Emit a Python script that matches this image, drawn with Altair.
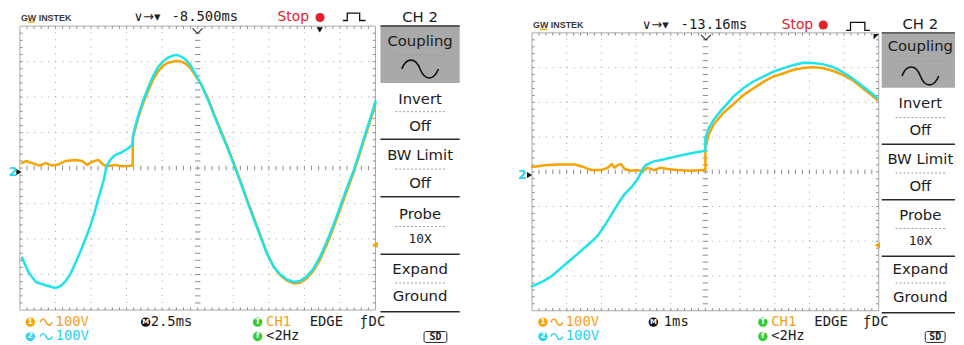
import altair as alt
import pandas as pd

# ---------------- trace values, in screen divisions (x: -5..5, y: -4..4) ----------------
# Left screen (2.5 ms/div)
L_CH1_X = [-4.94, -4.83, -4.65, -4.46, -4.28, -4.09, -3.90, -3.72, -3.44, -3.25,
           -3.11, -3.02, -2.93, -2.79, -2.65, -2.51, -2.32, -2.14, -1.95, -1.83,
           -1.82, -1.77, -1.67, -1.53, -1.39, -1.25, -1.12, -0.98, -0.84, -0.70,
           -0.60, -0.46, -0.33, -0.19, -0.05, 0.09, 0.28, 0.46, 0.65, 0.84,
           1.02, 1.21, 1.39, 1.58, 1.77, 1.95, 2.14, 2.32, 2.51, 2.70,
           2.88, 3.07, 3.25, 3.44, 3.62, 3.81, 4.00, 4.18, 4.41, 4.55,
           4.74, 4.90, 5.00]
L_CH1_Y = [0.14, 0.20, 0.14, 0.07, 0.14, 0.07, 0.11, 0.20, 0.23, 0.20,
           0.09, 0.15, 0.19, 0.23, 0.09, 0.06, 0.09, 0.05, 0.06, 0.07,
           0.88, 1.05, 1.42, 1.84, 2.18, 2.50, 2.72, 2.88, 2.97, 3.00,
           3.02, 3.00, 2.94, 2.80, 2.58, 2.38, 1.98, 1.53, 1.06, 0.60,
           0.13, -0.38, -0.89, -1.40, -1.91, -2.40, -2.78, -3.02, -3.17, -3.25,
           -3.23, -3.10, -2.90, -2.58, -2.18, -1.70, -1.18, -0.68, -0.06, 0.38,
           0.98, 1.48, 1.82]
L_CH2_X = [-4.94, -4.75, -4.55, -4.28, -4.00, -3.85, -3.72, -3.60, -3.49, -3.37,
           -3.25, -3.13, -3.02, -2.90, -2.79, -2.65, -2.56, -2.46, -2.32, -2.14,
           -1.95, -1.84, -1.82, -1.77, -1.67, -1.53, -1.39, -1.25, -1.12, -0.98,
           -0.84, -0.70, -0.60, -0.46, -0.33, -0.19, -0.05, 0.09, 0.28, 0.46,
           0.65, 0.84, 1.02, 1.21, 1.39, 1.58, 1.77, 1.95, 2.14, 2.32,
           2.51, 2.70, 2.88, 3.07, 3.25, 3.44, 3.62, 3.81, 4.00, 4.18,
           4.41, 4.55, 4.74, 4.90, 5.00]
L_CH2_Y = [-2.53, -2.95, -3.21, -3.30, -3.38, -3.32, -3.19, -3.02, -2.79, -2.52,
           -2.23, -1.93, -1.63, -1.25, -0.84, -0.37, 0.05, 0.23, 0.37, 0.44,
           0.56, 0.65, 0.88, 1.12, 1.49, 1.91, 2.28, 2.60, 2.84, 3.00,
           3.11, 3.17, 3.19, 3.14, 3.05, 2.88, 2.62, 2.37, 1.95, 1.49,
           1.02, 0.56, 0.09, -0.42, -0.93, -1.44, -1.95, -2.42, -2.79, -3.00,
           -3.14, -3.21, -3.18, -3.05, -2.84, -2.50, -2.10, -1.62, -1.10, -0.60,
           0.00, 0.45, 1.05, 1.55, 1.88]

# Right screen (1 ms/div)
R_CH1_X = [-5.00, -4.62, -4.24, -3.76, -3.52, -3.29, -3.00, -2.81, -2.70, -2.62,
           -2.52, -2.43, -2.33, -2.14, -1.95, -1.81, -1.67, -1.48, -1.29, -1.10,
           -0.81, -0.43, -0.05, 0.00, 0.00, 0.10, 0.24, 0.52, 0.81, 1.10,
           1.38, 1.67, 1.95, 2.24, 2.52, 2.81, 3.10, 3.38, 3.67, 3.95,
           4.24, 4.52, 4.76, 4.96]
R_CH1_Y = [0.14, 0.19, 0.21, 0.21, 0.14, 0.05, 0.05, 0.12, 0.22, 0.12,
           0.20, 0.22, 0.08, 0.03, 0.05, 0.01, 0.12, 0.05, 0.12, 0.08,
           0.05, 0.03, 0.05, 0.05, 0.70, 1.08, 1.37, 1.70, 1.95, 2.21,
           2.40, 2.59, 2.74, 2.83, 2.93, 2.99, 3.01, 2.99, 2.91, 2.80,
           2.64, 2.42, 2.23, 2.07]
R_CH2_X = [-5.00, -4.71, -4.43, -4.14, -3.95, -3.67, -3.48, -3.29, -3.10, -2.90,
           -2.71, -2.52, -2.33, -2.14, -1.95, -1.81, -1.71, -1.48, -1.19, -0.90,
           -0.62, -0.33, -0.05, 0.00, 0.00, 0.10, 0.24, 0.43, 0.62, 0.81,
           1.10, 1.38, 1.67, 1.95, 2.24, 2.52, 2.81, 3.10, 3.38, 3.67,
           3.95, 4.24, 4.52, 4.76, 4.96]
R_CH2_Y = [-3.30, -3.17, -3.00, -2.75, -2.59, -2.35, -2.18, -2.02, -1.83, -1.54,
           -1.23, -0.92, -0.64, -0.45, -0.21, 0.08, 0.20, 0.30, 0.36, 0.43,
           0.49, 0.55, 0.60, 0.60, 0.98, 1.26, 1.50, 1.74, 1.95, 2.17,
           2.41, 2.60, 2.74, 2.88, 2.98, 3.07, 3.14, 3.13, 3.10, 3.02,
           2.88, 2.69, 2.48, 2.29, 2.12]

# ---------------- screen texts ----------------
DELAYS = ["-8.500ms", "-13.16ms"]
TIMEBASES = ["2.5ms", "1ms"]
LOGO_TXT = "GW INSTEK"
STOP_TXT = "Stop"
CH_TXT = "CH 2"
MENU_LABELS = ["Coupling", "Invert", "Off", "BW Limit", "Off", "Probe", "10X", "Expand", "Ground"]
VOLTS = ["100V", "100V"]
TRIG_TXT = ["CH1", "EDGE", "ƒ", "DC", "<2Hz"]

ORANGE = "#f7a300"
CYAN = "#1ee3ea"
T_OR = "#f5a01a"
T_CY = "#2bd3ef"
GREEN = "#33cc33"
RED = "#e3222b"
DOT = "#a0a0a0"
BORDER = "#a9a9a9"
INK = "#1c1c1c"
SANS = "DejaVu Sans"
MONO = "DejaVu Sans Mono"
LOGO = "Liberation Sans"
SINE = "M-1,0C-0.75,-0.65,-0.25,-0.65,0,0C0.25,0.65,0.75,0.65,1,0"

# page-pixel layout of each screen
LEFT_UI = dict(ox=8, W=472, plot=(19, 378, 22.7, 309.3), hy=14, logo_x=20, sym_x=134, time_x=172,
               stop_x=279, dot_x=322,
               pulse=[(345, 17), (349.5, 17), (349.5, 9.5), (362, 9.5), (362, 17), (368, 17)],
               menu=(383, 463), mcx=423, ch_y=13.5, head_line=22.5, box=(23, 80), wave_y=66,
               label_y=[38, 96, 124, 153, 181, 212, 238, 268, 295], dot_y=[52, 109, 167, 225, 282],
               sep_y=[137, 195, 253, 311], gnd=(12, 18, 170), trig=(377.5, 243.5),
               vmark=(198.3, 27.5), tdown=(321.7, 26.5), corner=None, uline=(27, 34, 18.5),
               r1=321.5, r2=336, circ_x=29.5, wave_x=45.5, volt_x=55, m_x=146, tb_x=151,
               t_x=259, ch1_x=267.5, edge_x=311.5, f_x=362, dc_x=371, sd=(427, 450, 331, 342))
RIGHT_UI = dict(ox=480, W=484, plot=(536, 886, 29.5, 310), hy=21.5, logo_x=537, sym_x=647, time_x=686,
                stop_x=788, dot_x=830,
                pulse=[(853, 27), (857.5, 27), (857.5, 19), (872, 19), (872, 27), (877, 27)],
                menu=(889, 963), mcx=928, ch_y=20.5, head_line=29.5, box=(30, 85), wave_y=73,
                label_y=[43, 100, 128, 157, 184, 213, 240, 268, 296], dot_y=[58, 115, 171, 227, 282],
                sep_y=[142, 198, 255, 312], gnd=(526, 533.5, 173), trig=(884.5, 244),
                vmark=(711.5, 34), tdown=None, corner=(883.5, 33.5), uline=(544, 551, 26),
                r1=321.5, r2=336, circ_x=547, wave_x=561, volt_x=570, m_x=658.5, tb_x=669,
                t_x=769, ch1_x=777.5, edge_x=821, f_x=870, dc_x=879, sd=(933, 953, 331, 342))


def screen(U, ch1, ch2, delay, tb):
    ox, oy = U["ox"], 8
    X0, X1, Y0, Y1 = U["plot"]
    dx = (X1 - X0) / 10.0
    dy = (Y1 - Y0) / 8.0
    xs = alt.Scale(domain=[-5, 5], range=[X0 - ox, X1 - ox])
    ys = alt.Scale(domain=[-4, 4], range=[Y1 - oy, Y0 - oy])

    def DX(f):
        return alt.X(f + ":Q", scale=xs, axis=None)

    def DY(f):
        return alt.Y(f + ":Q", scale=ys, axis=None)

    def PX(f):
        return alt.X(f + ":Q", scale=None, axis=None)

    def PY(f):
        return alt.Y(f + ":Q", scale=None, axis=None)

    lx = lambda v: v - ox
    ly = lambda v: v - oy
    L = []

    # plot frame
    frame = pd.DataFrame({"x": [-5], "x2": [5], "y": [-4], "y2": [4]})
    L.append(alt.Chart(frame).mark_rect(fill="white", stroke=BORDER, strokeWidth=1)
             .encode(x=DX("x"), x2="x2:Q", y=DY("y"), y2="y2:Q"))
    # dotted grid
    vg = pd.DataFrame({"x": [-4, -3, -2, -1, 1, 2, 3, 4], "y": -4, "y2": 4})
    L.append(alt.Chart(vg).mark_rule(color=DOT, strokeWidth=1, strokeDash=[1, dy / 5 - 1])
             .encode(x=DX("x"), y=DY("y"), y2="y2:Q"))
    hg = pd.DataFrame({"y": [-3, -2, -1, 1, 2, 3], "x": -5, "x2": 5})
    L.append(alt.Chart(hg).mark_rule(color=DOT, strokeWidth=1, strokeDash=[1, dx / 5 - 1])
             .encode(x=DX("x"), x2="x2:Q", y=DY("y")))
    # ticks on centre lines and frame
    tk = []
    for k in range(1, 50):
        xv = round(-5 + 0.2 * k, 3)
        tk += [(xv, 0, "M0,-1L0,1", 20), (xv, 4, "M0,0L0,1", 30), (xv, -4, "M0,0L0,-1", 30)]
    for k in range(1, 40):
        yv = round(-4 + 0.2 * k, 3)
        tk += [(0, yv, "M-1,0L1,0", 30), (-5, yv, "M0,0L1,0", 30), (5, yv, "M0,0L-1,0", 30)]
    tkd = pd.DataFrame(tk, columns=["x", "y", "sh", "s"])
    L.append(alt.Chart(tkd).mark_point(filled=False, color="#8c8c8c", strokeWidth=1, opacity=1)
             .encode(x=DX("x"), y=DY("y"), shape=alt.Shape("sh:N", scale=None),
                     size=alt.Size("s:Q", scale=None)))

    # traces
    for (xv, yv), col in ((ch1, ORANGE), (ch2, CYAN)):
        d = pd.DataFrame({"x": xv, "y": yv, "i": list(range(len(xv)))})
        L.append(alt.Chart(d).mark_line(color=col, strokeWidth=2.5, strokeJoin="round", strokeCap="round")
                 .encode(x=DX("x"), y=DY("y"), order="i:Q"))

    # menu box
    mx0, mx1 = U["menu"]
    mcx = U["mcx"]
    box = pd.DataFrame({"x": [lx(mx0)], "x2": [lx(mx1)], "y": [ly(U["box"][0])], "y2": [ly(U["box"][1])]})
    L.append(alt.Chart(box).mark_rect(fill="#a9a9a9").encode(x=PX("x"), x2="x2:Q", y=PY("y"), y2="y2:Q"))
    # SD box
    sx0, sx1, sy0, sy1 = U["sd"]
    sdb = pd.DataFrame({"x": [lx(sx0)], "x2": [lx(sx1)], "y": [ly(sy0)], "y2": [ly(sy1)]})
    L.append(alt.Chart(sdb).mark_rect(fillOpacity=0, stroke="#222", strokeWidth=1, cornerRadius=2)
             .encode(x=PX("x"), x2="x2:Q", y=PY("y"), y2="y2:Q"))

    # solid separators
    seps = [U["head_line"]] + U["sep_y"]
    sd = pd.DataFrame({"x": lx(mx0), "x2": lx(mx1), "y": [ly(v) for v in seps]})
    L.append(alt.Chart(sd).mark_rule(color="#2a2a2a", strokeWidth=1.5)
             .encode(x=PX("x"), x2="x2:Q", y=PY("y")))
    # dotted separators
    dd = pd.DataFrame({"x": lx(mcx - 25), "x2": lx(mcx + 25), "y": [ly(v) for v in U["dot_y"]]})
    L.append(alt.Chart(dd).mark_rule(color="#9a9a9a", strokeWidth=1, strokeDash=[2, 2])
             .encode(x=PX("x"), x2="x2:Q", y=PY("y")))
    # logo underline
    u0, u1, uy = U["uline"]
    ud = pd.DataFrame({"x": [lx(u0)], "x2": [lx(u1)], "y": [ly(uy)]})
    L.append(alt.Chart(ud).mark_rule(color=ORANGE, strokeWidth=1.5).encode(x=PX("x"), x2="x2:Q", y=PY("y")))
    # pulse icon
    pdf = pd.DataFrame({"x": [lx(p[0]) for p in U["pulse"]], "y": [ly(p[1]) for p in U["pulse"]],
                        "i": list(range(len(U["pulse"])))})
    L.append(alt.Chart(pdf).mark_line(color="#111", strokeWidth=1.3)
             .encode(x=PX("x"), y=PY("y"), order="i:Q"))

    # texts
    hy = U["hy"]
    r1, r2 = U["r1"], U["r2"]
    T = [
        (LOGO_TXT, U["logo_x"], hy + 0.5, "#3a3a3a", 9, LOGO, "bold", "left"),
        ("∨→▾", U["sym_x"], hy, "#222", 13, SANS, "normal", "left"),
        (delay, U["time_x"], hy, "#222", 14, MONO, "normal", "left"),
        (STOP_TXT, U["stop_x"], hy, RED, 14, SANS, "normal", "left"),
        (CH_TXT, mcx, U["ch_y"], INK, 15, SANS, "normal", "center"),
        ("2", U["gnd"][0], U["gnd"][2], T_CY, 13, SANS, "bold", "center"),
        (VOLTS[0], U["volt_x"], r1, T_OR, 14, MONO, "normal", "left"),
        (VOLTS[1], U["volt_x"], r2, T_CY, 14, MONO, "normal", "left"),
        (tb, U["tb_x"], r1, INK, 14, MONO, "normal", "left"),
        (TRIG_TXT[0], U["ch1_x"], r1, T_OR, 14, MONO, "normal", "left"),
        (TRIG_TXT[1], U["edge_x"], r1, INK, 14, MONO, "normal", "left"),
        (TRIG_TXT[2], U["f_x"], r1, INK, 14, MONO, "normal", "left"),
        (TRIG_TXT[3], U["dc_x"], r1, INK, 14, MONO, "normal", "left"),
        (TRIG_TXT[4], U["ch1_x"], r2, INK, 14, MONO, "normal", "left"),
        ("SD", (sx0 + sx1) / 2, (sy0 + sy1) / 2 + 0.5, INK, 10, MONO, "bold", "center"),
        ("1", U["circ_x"], r1, "white", 8, SANS, "bold", "center"),
        ("2", U["circ_x"], r2, "white", 8, SANS, "bold", "center"),
        ("M", U["m_x"], r1, "white", 7, SANS, "bold", "center"),
        ("T", U["t_x"], r1, "white", 8, SANS, "bold", "center"),
        ("f", U["t_x"], r2, "white", 8, SANS, "bold", "center"),
    ]
    for lab, yv in zip(MENU_LABELS, U["label_y"]):
        if lab == "10X":
            T.append((lab, mcx, yv, INK, 13, MONO, "normal", "center"))
        else:
            T.append((lab, mcx, yv, INK, 15, SANS, "normal", "center"))
    tdf = pd.DataFrame(T, columns=["t", "x", "y", "c", "s", "f", "w", "a"])
    tdf["x"] = tdf["x"] - ox
    tdf["y"] = tdf["y"] - oy

    # symbols (filled)
    P = [
        (U["dot_x"], hy, "circle", 85, RED),
        (U["circ_x"], r1, "circle", 90, ORANGE),
        (U["circ_x"], r2, "circle", 90, T_CY),
        (U["m_x"], r1, "circle", 90, "#111"),
        (U["t_x"], r1, "circle", 90, GREEN),
        (U["t_x"], r2, "circle", 90, GREEN),
        (U["gnd"][1], U["gnd"][2], "triangle-right", 36, "#111"),
        (U["trig"][0], U["trig"][1], "triangle-left", 40, ORANGE),
    ]
    if U["tdown"]:
        P.append((U["tdown"][0], U["tdown"][1], "triangle-down", 40, "#111"))
    if U["corner"]:
        P.append((U["corner"][0], U["corner"][1], "M-1,-1L1,-1L-1,1Z", 30, "#111"))
    fdf = pd.DataFrame(P, columns=["x", "y", "sh", "s", "c"])
    fdf["x"] = fdf["x"] - ox
    fdf["y"] = fdf["y"] - oy
    L.append(alt.Chart(fdf).mark_point(filled=True, opacity=1, strokeWidth=0)
             .encode(x=PX("x"), y=PY("y"), shape=alt.Shape("sh:N", scale=None),
                     size=alt.Size("s:Q", scale=None), color=alt.Color("c:N", scale=None)))
    # symbols (outlined)
    Q = [
        (U["vmark"][0], U["vmark"][1], "M-1,-0.5L0,0.5L1,-0.5", 100, "#333", 1.2),
        (mcx, U["wave_y"], SINE, 1369, "#111", 1.6),
        (U["wave_x"], r1, SINE, 144, T_OR, 1.4),
        (U["wave_x"], r2, SINE, 144, T_CY, 1.4),
    ]
    qdf = pd.DataFrame(Q, columns=["x", "y", "sh", "s", "c", "sw"])
    qdf["x"] = qdf["x"] - ox
    qdf["y"] = qdf["y"] - oy
    L.append(alt.Chart(qdf).mark_point(filled=False, opacity=1)
             .encode(x=PX("x"), y=PY("y"), shape=alt.Shape("sh:N", scale=None),
                     size=alt.Size("s:Q", scale=None), color=alt.Color("c:N", scale=None),
                     strokeWidth=alt.StrokeWidth("sw:Q", scale=None)))

    for (f, w, a), g in tdf.groupby(["f", "w", "a"]):
        L.append(alt.Chart(g).mark_text(font=f, fontWeight=w, align=a, baseline="middle")
                 .encode(x=PX("x"), y=PY("y"), text="t:N",
                         color=alt.Color("c:N", scale=None), size=alt.Size("s:Q", scale=None)))

    return alt.layer(*L).properties(width=U["W"], height=337).resolve_scale(x="independent", y="independent")


left = screen(LEFT_UI, (L_CH1_X, L_CH1_Y), (L_CH2_X, L_CH2_Y), DELAYS[0], TIMEBASES[0])
right = screen(RIGHT_UI, (R_CH1_X, R_CH1_Y), (R_CH2_X, R_CH2_Y), DELAYS[1], TIMEBASES[1])

chart = alt.hconcat(left, right, spacing=0, bounds="flush", padding=0,
                    background="white").configure_view(strokeWidth=0)
chart.save("out.html", embed_options={"renderer": "svg", "actions": False})
